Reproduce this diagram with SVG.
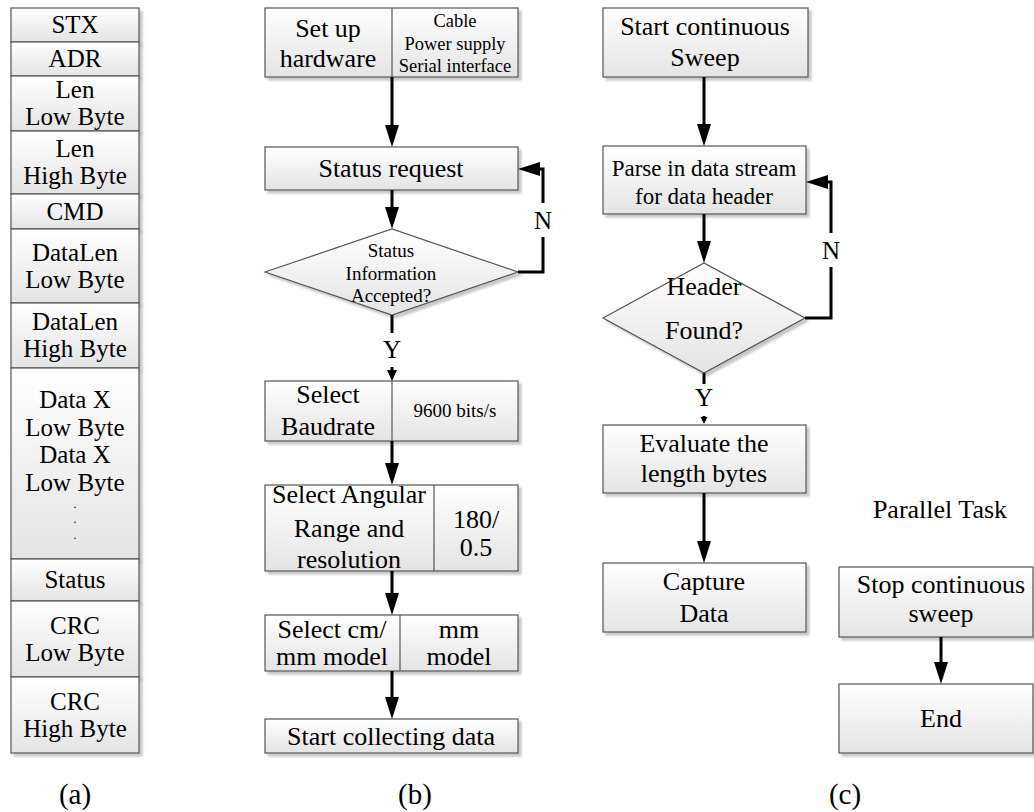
<svg xmlns="http://www.w3.org/2000/svg" width="1034" height="812" viewBox="0 0 1034 812" font-family="'Liberation Serif', 'DejaVu Serif', serif">
<defs>
<linearGradient id="g" x1="0" y1="0" x2="0" y2="1">
<stop offset="0" stop-color="#ffffff"/>
<stop offset="1" stop-color="#e4e4e4"/>
</linearGradient>
<filter id="sh" x="-10%" y="-10%" width="130%" height="140%">
<feDropShadow dx="3" dy="3" stdDeviation="1" flood-color="#000" flood-opacity="0.22"/>
</filter>
<marker id="ah" markerWidth="22" markerHeight="14" refX="12" refY="7" orient="auto" markerUnits="userSpaceOnUse" overflow="visible">
<path d="M0,0 L22,7 L0,14 z" fill="#000"/>
</marker>
<marker id="as" markerWidth="11" markerHeight="10" refX="5" refY="5" orient="auto" markerUnits="userSpaceOnUse" overflow="visible">
<path d="M0,0 L11,5 L0,10 z" fill="#000"/>
</marker>
<marker id="ax" markerWidth="7" markerHeight="7" refX="2" refY="3.5" orient="auto" markerUnits="userSpaceOnUse" overflow="visible">
<path d="M0,0 L7,3.5 L0,7 z" fill="#000"/>
</marker>
</defs>
<style>
.b{fill:url(#g);stroke:#555;stroke-width:1.2;filter:url(#sh)}
.d{stroke:#555;stroke-width:1.2}
text{font-family:'Liberation Serif','DejaVu Serif',serif}
.t{text-anchor:middle;fill:#000}
.f25{font-size:25px}
.f26{font-size:26px}
.f23{font-size:23px}
.f24{font-size:24px}
.f19{font-size:19px}
.f12{font-size:12px}
.f18{font-size:18.5px}
.f28{font-size:29px}
.c{fill:none;stroke:#000;stroke-width:3}
</style>
<rect width="1034" height="812" fill="#fff"/>

<!-- (a) frame structure -->
<g id="frame">
<rect class="b" x="11" y="8" width="128" height="34"/>
<text class="t f25" x="75" y="33">STX</text>
<rect class="b" x="11" y="42" width="128" height="34"/>
<text class="t f25" x="75" y="67">ADR</text>
<rect class="b" x="11" y="76" width="128" height="55"/>
<text class="t f25" x="75" y="98">Len</text>
<text class="t f25" x="75" y="125">Low Byte</text>
<rect class="b" x="11" y="131" width="128" height="63"/>
<text class="t f25" x="75" y="157">Len</text>
<text class="t f25" x="75" y="184">High Byte</text>
<rect class="b" x="11" y="194" width="128" height="35"/>
<text class="t f25" x="75" y="220">CMD</text>
<rect class="b" x="11" y="229" width="128" height="74"/>
<text class="t f25" x="75" y="261">DataLen</text>
<text class="t f25" x="75" y="288">Low Byte</text>
<rect class="b" x="11" y="303" width="128" height="65"/>
<text class="t f25" x="75" y="330">DataLen</text>
<text class="t f25" x="75" y="357">High Byte</text>
<rect class="b" x="11" y="368" width="128" height="191"/>
<text class="t f25" x="75" y="408">Data X</text>
<text class="t f25" x="75" y="436">Low Byte</text>
<text class="t f25" x="75" y="463">Data X</text>
<text class="t f25" x="75" y="491">Low Byte</text>
<text class="t f12" x="75" y="508">.</text>
<text class="t f12" x="75" y="523">.</text>
<text class="t f12" x="75" y="539">.</text>
<rect class="b" x="11" y="559" width="128" height="42"/>
<text class="t f25" x="75" y="588">Status</text>
<rect class="b" x="11" y="601" width="128" height="76"/>
<text class="t f25" x="75" y="634">CRC</text>
<text class="t f25" x="75" y="661">Low Byte</text>
<rect class="b" x="11" y="677" width="128" height="76"/>
<text class="t f25" x="75" y="710">CRC</text>
<text class="t f25" x="75" y="737">High Byte</text>
</g>

<!-- (b) flowchart -->
<g id="setup">
<rect class="b" x="265" y="8" width="253" height="69"/>
<line class="d" x1="392" y1="8" x2="392" y2="77"/>
<text class="t f26" x="328" y="37">Set up</text>
<text class="t f26" x="328" y="67">hardware</text>
<text class="t f18" x="455" y="27">Cable</text>
<text class="t f18" x="455" y="50">Power supply</text>
<text class="t f18" x="455" y="72">Serial interface</text>
</g>
<g id="statusreq">
<rect class="b" x="265" y="147" width="253" height="43"/>
<text class="t f26" x="391" y="177">Status request</text>
</g>
<g id="statusdec">
<polygon class="b" points="265,272 392,229 518,272 392,315"/>
<text class="t f19" x="391" y="257">Status</text>
<text class="t f19" x="391" y="280">Information</text>
<text class="t f19" x="391" y="302">Accepted?</text>
</g>
<g id="baud">
<rect class="b" x="265" y="381" width="253" height="60"/>
<line class="d" x1="392" y1="381" x2="392" y2="441"/>
<text class="t f26" x="328" y="403">Select</text>
<text class="t f26" x="328" y="435">Baudrate</text>
<text class="t f19" x="455" y="417">9600 bits/s</text>
</g>
<g id="angular">
<rect class="b" x="265" y="485" width="253" height="86"/>
<line class="d" x1="434" y1="485" x2="434" y2="571"/>
<text class="t f26" x="349" y="503">Select Angular</text>
<text class="t f26" x="349" y="537">Range and</text>
<text class="t f26" x="349" y="568">resolution</text>
<text class="t f26" x="476" y="528">180/</text>
<text class="t f26" x="476" y="556">0.5</text>
</g>
<g id="unit">
<rect class="b" x="265" y="615" width="253" height="56"/>
<line class="d" x1="400" y1="615" x2="400" y2="671"/>
<text class="t f26" x="332" y="638">Select cm/</text>
<text class="t f26" x="332" y="665">mm model</text>
<text class="t f26" x="459" y="638">mm</text>
<text class="t f26" x="459" y="665">model</text>
</g>
<g id="collect">
<rect class="b" x="265" y="719" width="253" height="34"/>
<text class="t f26" x="391" y="745">Start collecting data</text>
</g>

<!-- (c) flowchart -->
<g id="startsweep">
<rect class="b" x="603" y="8" width="205" height="69"/>
<text class="t f26" x="705" y="35">Start continuous</text>
<text class="t f26" x="705" y="66">Sweep</text>
</g>
<g id="parse">
<rect class="b" x="603" y="146" width="203" height="68"/>
<text class="t f23" x="704" y="176">Parse in data stream</text>
<text class="t f23" x="704" y="204">for data header</text>
</g>
<g id="headerdec">
<polygon class="b" points="603,318 704,263 805,318 704,373"/>
<text class="t f26" x="704" y="295">Header</text>
<text class="t f26" x="704" y="339">Found?</text>
</g>
<g id="evaluate">
<rect class="b" x="603" y="425" width="203" height="68"/>
<text class="t f26" x="704" y="452">Evaluate the</text>
<text class="t f26" x="704" y="482">length bytes</text>
</g>
<g id="capture">
<rect class="b" x="603" y="563" width="203" height="69"/>
<text class="t f26" x="704" y="590">Capture</text>
<text class="t f26" x="704" y="622">Data</text>
</g>
<g id="parallel">
<text class="t f26" x="940" y="518">Parallel Task</text>
</g>
<g id="stop">
<rect class="b" x="839" y="567" width="194" height="70"/>
<text class="t f26" x="941" y="593">Stop continuous</text>
<text class="t f26" x="941" y="622">sweep</text>
</g>
<g id="end">
<rect class="b" x="839" y="684" width="194" height="69"/>
<text class="t f26" x="941" y="727">End</text>
</g>

<!-- connectors -->
<g id="connectors">
<path class="c" d="M392,77 V137" marker-end="url(#ah)"/>
<path class="c" d="M392,190 V219" marker-end="url(#ah)"/>
<path class="c" d="M518,272 H543 V237"/>
<path class="c" d="M543,203 V169 H528" marker-end="url(#ah)"/>
<path class="c" d="M392,315 V333"/>
<path class="c" d="M392,367 V375" marker-end="url(#as)"/>
<path class="c" d="M392,441 V475" marker-end="url(#ah)"/>
<path class="c" d="M392,571 V605" marker-end="url(#ah)"/>
<path class="c" d="M392,671 V709" marker-end="url(#ah)"/>
<path class="c" d="M704,77 V136" marker-end="url(#ah)"/>
<path class="c" d="M704,214 V253" marker-end="url(#ah)"/>
<path class="c" d="M805,318 H831 V267"/>
<path class="c" d="M831,233 V182 H816" marker-end="url(#ah)"/>
<path class="c" d="M704,373 V384"/>
<path class="c" d="M704,416 V419" stroke-width="2" marker-end="url(#ax)"/>
<path class="c" d="M704,493 V553" marker-end="url(#ah)"/>
<path class="c" d="M941,637 V674" marker-end="url(#ah)"/>
<text class="t f25" x="543" y="229">N</text>
<text class="t f25" x="392" y="358">Y</text>
<text class="t f25" x="831" y="259">N</text>
<text class="t f25" x="704" y="406">Y</text>
</g>

<g id="captions">
<text class="t f28" x="75" y="804">(a)</text>
<text class="t f28" x="415" y="804">(b)</text>
<text class="t f28" x="845" y="804">(c)</text>
</g>
</svg>
